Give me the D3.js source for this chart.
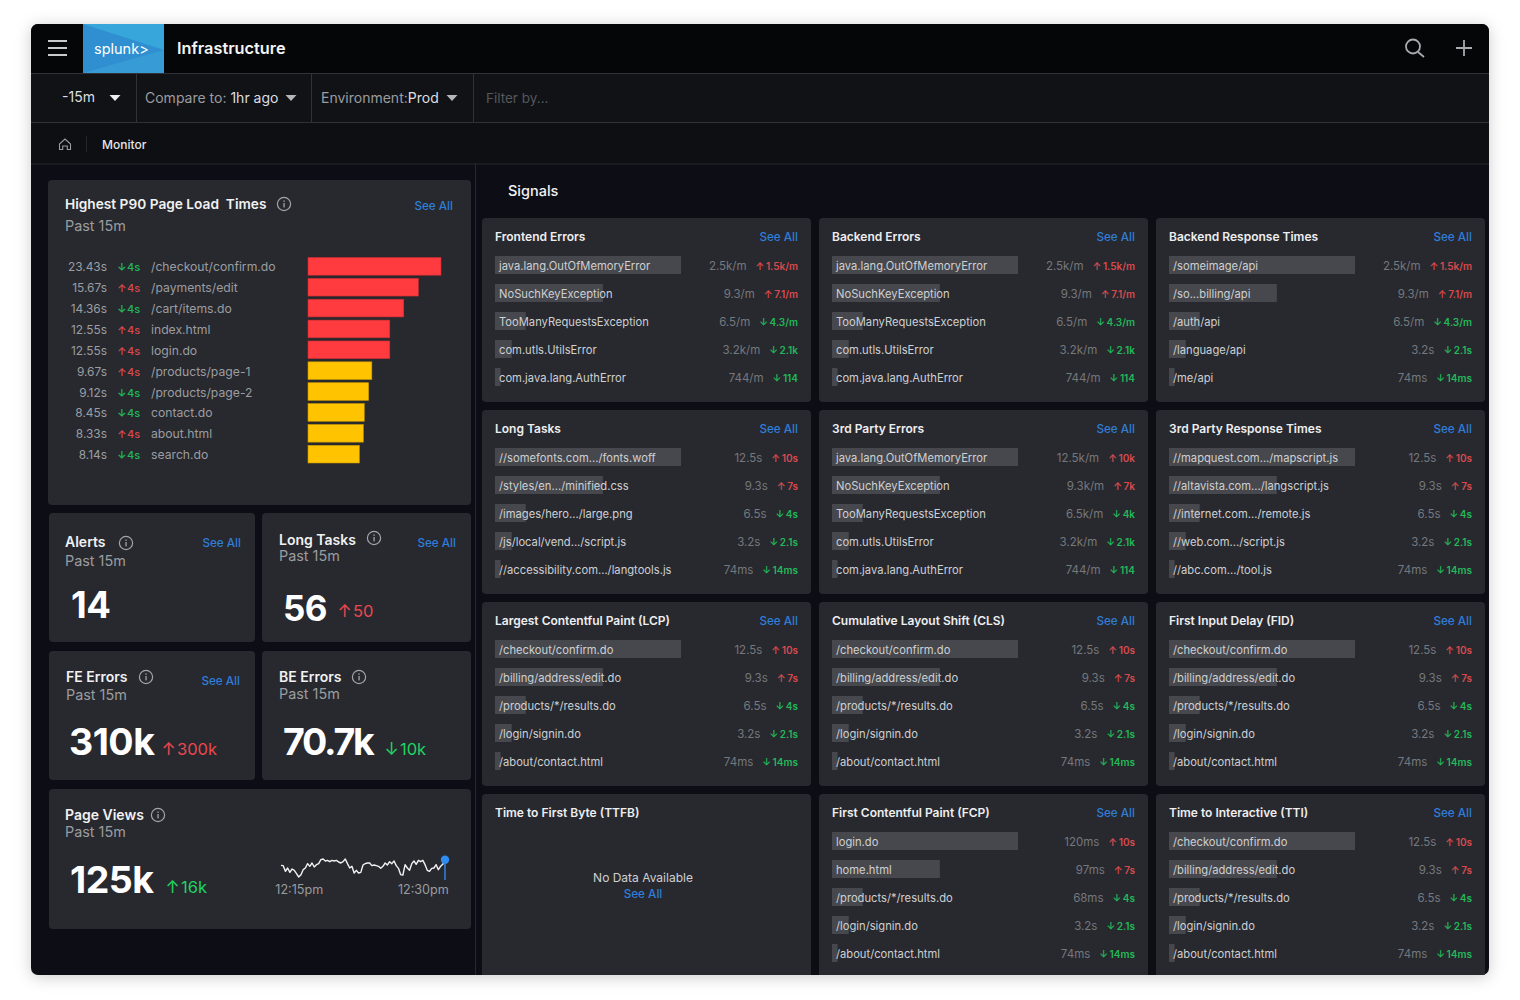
<!DOCTYPE html>
<html>
<head>
<meta charset="utf-8">
<script src="https://cdn.jsdelivr.net/npm/d3@7"></script>
<style>
  html, body { margin: 0; background: #fff; }
  svg { display: block; font-family: Inter, "Noto Sans", sans-serif; }
  .title { font-size: 13.7px; font-weight: 600; fill: #f1f1f2; }
  .cardTitle { font-size: 14px; font-weight: 600; fill: #f1f1f2; }
  .sub { font-size: 14.4px; fill: #9b9c9f; }
  .seeAll { font-size: 11.7px; font-weight: 500; fill: #2f7ed8; text-anchor: end; }
  .big { font-weight: 700; fill: #fff; }
  .signalTitle { font-size: 12px; font-weight: 600; fill: #eeeeef; }
  .rowName { font-size: 11.2px; fill: #cfd0d2; }
  .rowValue { font-size: 11.5px; fill: #76787c; }
  .rowDelta { font-size: 10px; font-weight: 600; }
  .p90 { font-size: 12.2px; fill: #9c9da0; }
  .up { fill: #d8494e; }
  .down { fill: #22b858; }
  .bigUp { fill: #ea484e; }
  .bigDown { fill: #1fd462; }
</style>
</head>
<body>
<svg id="chart" width="1520" height="1000"></svg>
<script>
// left column: page load list
const p90Pages  = ['/checkout/confirm.do', '/payments/edit', '/cart/items.do', 'index.html', 'login.do',
                   '/products/page-1', '/products/page-2', 'contact.do', 'about.html', 'search.do'];
const p90Times  = ['23.43s', '15.67s', '14.36s', '12.55s', '12.55s', '9.67s', '9.12s', '8.45s', '8.33s', '8.14s'];
const p90Dirs   = [-1, 1, -1, 1, 1, 1, -1, -1, 1, -1];
const p90Delta  = '4s';
const p90Bars   = [100, 83, 72, 61.5, 61.5, 48, 45.6, 42.3, 41.6, 38.6];  // bar length as drawn, % of longest
const p90Colors = ['#ff3b3f', '#ff3b3f', '#ff3b3f', '#ff3b3f', '#ff3b3f', '#ffc300', '#ffc300', '#ffc300', '#ffc300', '#ffc300'];

// page views sparkline (relative units)
const pageViews = [53, 52, 35, 45, 32, 42, 38, 28, 18, 25, 40, 45, 58, 50, 60, 48, 55, 58, 70, 72, 66, 68, 64, 68, 66,
                   68, 63, 60, 64, 72, 58, 45, 50, 30, 38, 30, 32, 54, 58, 60, 60, 52, 54, 52, 50, 44, 50, 60, 54, 64,
                   58, 66, 52, 44, 25, 24, 55, 45, 38, 58, 66, 56, 68, 64, 68, 55, 38, 35, 44, 45, 55, 40, 50, 56, 70];
const sparkTickIdx    = [8, 64];
const sparkTickLabels = ['12:15pm', '12:30pm'];

// signal panels, left to right then top to bottom
const signalTitles = ['Frontend Errors', 'Backend Errors', 'Backend Response Times',
                      'Long Tasks', '3rd Party Errors', '3rd Party Response Times',
                      'Largest Contentful Paint (LCP)', 'Cumulative Layout Shift (CLS)', 'First Input Delay (FID)',
                      'Time to First Byte (TTFB)', 'First Contentful Paint (FCP)', 'Time to Interactive (TTI)'];
const errorNames = ['java.lang.OutOfMemoryError', 'NoSuchKeyException', 'TooManyRequestsException', 'com.utls.UtilsError', 'com.java.lang.AuthError'];
const pageNames  = ['/checkout/confirm.do', '/billing/address/edit.do', '/products/*/results.do', '/login/signin.do', '/about/contact.html'];
const apiNames   = ['/someimage/api', '/so...billing/api', '/auth/api', '/language/api', '/me/api'];
const taskNames  = ['//somefonts.com.../fonts.woff', '/styles/en.../minified.css', '/images/hero.../large.png', '/js/local/vend.../script.js', '//accessibility.com.../langtools.js'];
const thirdNames = ['//mapquest.com.../mapscript.js', '//altavista.com.../langscript.js', '//internet.com.../remote.js', '//web.com.../script.js', '//abc.com.../tool.js'];
const fcpNames   = ['login.do', 'home.html', '/products/*/results.do', '/login/signin.do', '/about/contact.html'];
const signalNames = [errorNames, errorNames, apiNames, taskNames, errorNames, thirdNames,
                     pageNames, pageNames, pageNames, null, fcpNames, pageNames];

const errValues  = ['2.5k/m', '9.3/m', '6.5/m', '3.2k/m', '744/m'];
const errDeltas  = ['1.5k/m', '7.1/m', '4.3/m', '2.1k', '114'];
const apiValues  = ['2.5k/m', '9.3/m', '6.5/m', '3.2s', '74ms'];
const apiDeltas  = ['1.5k/m', '7.1/m', '4.3/m', '2.1s', '14ms'];
const timeValues = ['12.5s', '9.3s', '6.5s', '3.2s', '74ms'];
const timeDeltas = ['10s', '7s', '4s', '2.1s', '14ms'];
const thirdErrValues = ['12.5k/m', '9.3k/m', '6.5k/m', '3.2k/m', '744/m'];
const thirdErrDeltas = ['10k', '7k', '4k', '2.1k', '114'];
const fcpValues  = ['120ms', '97ms', '68ms', '3.2s', '74ms'];
const signalValues = [errValues, errValues, apiValues, timeValues, thirdErrValues, timeValues,
                      timeValues, timeValues, timeValues, null, fcpValues, timeValues];
const signalDeltas = [errDeltas, errDeltas, apiDeltas, timeDeltas, thirdErrDeltas, timeDeltas,
                      timeDeltas, timeDeltas, timeDeltas, null, timeDeltas, timeDeltas];
const signalDirs = [1, 1, -1, -1, -1];
const signalBars = [100, 58, 16.5, 9, 3];  // bar length as drawn, % of longest

const UP = '\u2191', DOWN = '\u2193';

const svg = d3.select('#chart');
const defs = svg.append('defs');

defs.append('filter').attr('id', 'shadow').attr('x', '-5%').attr('y', '-5%').attr('width', '110%').attr('height', '110%')
    .append('feDropShadow').attr('dx', 0).attr('dy', 2).attr('stdDeviation', 8).attr('flood-color', '#000').attr('flood-opacity', 0.2);
defs.append('clipPath').attr('id', 'win').append('rect')
    .attr('x', 31).attr('y', 24).attr('width', 1458).attr('height', 951).attr('rx', 7);

svg.append('rect').attr('x', 31).attr('y', 24).attr('width', 1458).attr('height', 951).attr('rx', 7)
   .attr('fill', '#0e0f13').attr('filter', 'url(#shadow)');

const win = svg.append('g').attr('clip-path', 'url(#win)');

function rect(g, x, y, w, h, fill, rx) {
    return g.append('rect').attr('x', x).attr('y', y).attr('width', w).attr('height', h)
            .attr('fill', fill).attr('rx', rx || 0);
}

function text(g, x, y, str, cls) {
    return g.append('text').attr('x', x).attr('y', y).attr('class', cls || null).text(str);
}

function line(g, x1, y1, x2, y2, color, width) {
    return g.append('line').attr('x1', x1).attr('y1', y1).attr('x2', x2).attr('y2', y2)
            .attr('stroke', color).attr('stroke-width', width || 1);
}

function caret(g, x, y, color) {
    g.append('path').attr('d', 'M' + (x - 5.5) + ',' + (y - 3) + 'h11l-5.5,6z').attr('fill', color);
}

function infoIcon(g, x, y) {
    g.append('circle').attr('cx', x).attr('cy', y).attr('r', 6.6)
     .attr('fill', 'none').attr('stroke', '#a3a4a7').attr('stroke-width', 1.2);
    rect(g, x - 0.6, y - 1, 1.3, 4.4, '#a3a4a7');
    rect(g, x - 0.6, y - 3.6, 1.3, 1.4, '#a3a4a7');
}

// ---- header ----
function drawHeader() {
    rect(win, 31, 24, 1458, 49, '#050608');
    rect(win, 31, 73, 1458, 49, '#111216');
    rect(win, 31, 122, 1458, 42, '#0e0f13');
    line(win, 31, 73.5, 1489, 73.5, '#303237');
    line(win, 31, 122.5, 1489, 122.5, '#303237');
    line(win, 31, 164, 1489, 164, '#26282c');

    [41, 48, 55].forEach(y => line(win, 48, y, 67, y, '#c9cacc', 2));

    // logo
    rect(win, 83, 24, 81, 49, '#2f8fd0');
    win.append('path').attr('d', 'M83,24L164,50V24z').attr('fill', '#37a6da');
    win.append('path').attr('d', 'M83,73L164,50V73z').attr('fill', '#3a9fd6').attr('opacity', 0.8);
    text(win, 94, 54, 'splunk>').attr('fill', '#fff').attr('font-size', 14.5).attr('font-weight', 400);

    text(win, 177, 54, 'Infrastructure').attr('fill', '#f4f4f5').attr('font-size', 16.3).attr('font-weight', 600);

    // search and plus
    win.append('circle').attr('cx', 1413).attr('cy', 46.5).attr('r', 7)
       .attr('fill', 'none').attr('stroke', '#a9aaad').attr('stroke-width', 1.8);
    line(win, 1418, 52, 1424, 57, '#a9aaad', 1.8);
    line(win, 1464, 40, 1464, 56, '#a9aaad', 1.8);
    line(win, 1456, 48, 1472, 48, '#a9aaad', 1.8);

    // filter bar
    [136, 311, 473].forEach(x => line(win, x + 0.5, 73, x + 0.5, 122, '#303237'));
    text(win, 62, 102, '-15m').attr('fill', '#dedfe0').attr('font-size', 14);
    caret(win, 115, 98, '#eeeeef');
    const cmp = win.append('text').attr('x', 145).attr('y', 103).attr('font-size', 14);
    cmp.append('tspan').attr('fill', '#9b9c9f').text('Compare to: ');
    cmp.append('tspan').attr('fill', '#dedfe0').text('1hr ago');
    caret(win, 291, 98, '#b5b6b8');
    const env = win.append('text').attr('x', 321).attr('y', 103).attr('font-size', 14);
    env.append('tspan').attr('fill', '#9b9c9f').text('Environment:');
    env.append('tspan').attr('fill', '#dedfe0').text('Prod');
    caret(win, 452, 98, '#b5b6b8');
    text(win, 486, 103, 'Filter by...').attr('fill', '#55575b').attr('font-size', 13.5);

    // breadcrumb
    win.append('path').attr('d', 'M59.5,149.5v-5.5l5.5,-5l5.5,5v5.5h-3.2v-3.5h-4.6v3.5z')
       .attr('fill', 'none').attr('stroke', '#9b9c9f').attr('stroke-width', 1.1);
    line(win, 86.5, 136, 86.5, 152, '#26282c');
    text(win, 102, 149, 'Monitor').attr('fill', '#e6e6e7').attr('font-size', 12).attr('font-weight', 500);

    line(win, 475.5, 164, 475.5, 975, '#26282c');
}

// ---- left column ----
function drawLoadTimes() {
    rect(win, 48, 180, 423, 325, '#27292f', 4);
    text(win, 65, 209, 'Highest P90 Page Load  Times', 'title').style('white-space', 'pre');
    infoIcon(win, 284, 204);
    text(win, 453, 210, 'See All', 'seeAll');
    text(win, 65, 231, 'Past 15m', 'sub');

    const y = d3.scaleBand().domain(p90Pages).range([258, 462.5]).paddingInner(0.2);
    const x = d3.scaleLinear().domain([0, 100]).range([308, 441]);
    const rows = win.append('g').selectAll('g').data(p90Pages).join('g')
        .attr('transform', d => 'translate(0,' + (y(d) + y.bandwidth() / 2) + ')');

    rows.append('text').attr('class', 'p90').attr('x', 107).attr('y', 5).attr('text-anchor', 'end')
        .style('font-size', '11.9px').text((d, i) => p90Times[i]);
    rows.append('text').attr('x', 122).attr('y', 5).attr('font-size', 10.5).attr('font-weight', 600)
        .attr('text-anchor', 'middle').attr('class', (d, i) => p90Dirs[i] > 0 ? 'up' : 'down')
        .text((d, i) => p90Dirs[i] > 0 ? UP : DOWN);
    rows.append('text').attr('x', 127).attr('y', 5).attr('font-size', 11).attr('font-weight', 500)
        .attr('class', (d, i) => p90Dirs[i] > 0 ? 'up' : 'down').text(p90Delta);
    rows.append('text').attr('class', 'p90').attr('x', 151).attr('y', 5).text(d => d);
    rows.append('rect').attr('x', x(0)).attr('y', -y.bandwidth() / 2 - 0.5)
        .attr('width', (d, i) => x(p90Bars[i]) - x(0)).attr('height', y.bandwidth() + 1)
        .attr('fill', (d, i) => p90Colors[i])
        .attr('stroke', (d, i) => d3.color(p90Colors[i]).darker(0.7)).attr('stroke-width', 0.6);
}

function statCard(c) {
    rect(win, c.x, c.y, c.w, c.h, '#27292f', 4);
    text(win, c.tx, c.ty, c.title, 'cardTitle');
    infoIcon(win, c.ix, c.iy);
    text(win, c.tx, c.py, 'Past 15m', 'sub');
    if (c.seeX) text(win, c.seeX, c.seeY, 'See All', 'seeAll');
    text(win, c.bx, c.by, c.big, 'big').attr('font-size', c.bs).style('letter-spacing', (c.ls || -0.5) + 'px');
    if (c.delta) {
        text(win, c.dx + 5.5, c.by - c.dy, c.arrow, c.cls).attr('font-size', 17).attr('text-anchor', 'middle');
        text(win, c.dx + 14, c.by - c.dy, c.delta, c.cls).attr('font-size', 16.5);
    }
}

function drawStats() {
    statCard({x: 49, y: 513, w: 206, h: 129, tx: 65, ty: 547, py: 566, ix: 126, iy: 543, seeX: 241, seeY: 547,
              title: 'Alerts', big: '14', bx: 71, by: 618, bs: 36.5});
    statCard({x: 262, y: 513, w: 209, h: 129, tx: 279, ty: 545, py: 561, ix: 374, iy: 538, seeX: 456, seeY: 547,
              title: 'Long Tasks', big: '56', bx: 283, by: 621, bs: 35, delta: '50', arrow: UP, cls: 'bigUp', dx: 339, dy: 4});
    statCard({x: 49, y: 651, w: 206, h: 129, tx: 66, ty: 682, py: 700, ix: 146, iy: 677, seeX: 240, seeY: 685,
              title: 'FE Errors', big: '310k', bx: 69, by: 755, bs: 37.5, delta: '300k', arrow: UP, cls: 'bigUp', dx: 163, dy: 0});
    statCard({x: 262, y: 651, w: 209, h: 129, tx: 279, ty: 682, py: 699, ix: 359, iy: 677,
              title: 'BE Errors', big: '70.7k', bx: 283, by: 755, bs: 37.5, ls: -2.2, delta: '10k', arrow: DOWN, cls: 'bigDown', dx: 386, dy: 0});
    statCard({x: 49, y: 789, w: 422, h: 140, tx: 65, ty: 820, py: 837, ix: 158, iy: 815,
              title: 'Page Views', big: '125k', bx: 70, by: 893, bs: 37.5, delta: '16k', arrow: UP, cls: 'bigDown', dx: 167, dy: 0});
}

function drawSparkline() {
    const x = d3.scaleLinear().domain([0, pageViews.length - 1]).range([281, 445]);
    const y = d3.scaleLinear().domain(d3.extent(pageViews)).range([877, 859]);
    const path = d3.line().x((d, i) => x(i)).y(d => y(d));

    win.append('path').datum(pageViews).attr('d', path).attr('fill', 'none')
       .attr('stroke', '#f2f2f3').attr('stroke-width', 1.4).attr('stroke-linejoin', 'round');

    const lastX = x(pageViews.length - 1), lastY = y(pageViews[pageViews.length - 1]);
    line(win, lastX, lastY, lastX, 880, '#2f8cf0', 1.4);
    win.append('circle').attr('cx', lastX).attr('cy', lastY).attr('r', 4.2).attr('fill', '#2f8cf0');

    const axis = d3.axisBottom(x).tickValues(sparkTickIdx).tickSize(0)
        .tickFormat((d, i) => sparkTickLabels[i]);
    const gAxis = win.append('g').attr('transform', 'translate(0,881)').call(axis);
    gAxis.select('.domain').remove();
    gAxis.selectAll('text').attr('fill', '#9b9c9f').attr('font-size', 12.6)
         .attr('font-family', 'Inter, sans-serif').attr('dy', '0.8em');
}

// ---- signals ----
function drawSignal(i) {
    const panelW = 329, panelH = 184;
    const px = 482 + (i % 3) * 337;
    const py = 218 + Math.floor(i / 3) * 192;
    const g = win.append('g').attr('transform', 'translate(' + px + ',' + py + ')');

    rect(g, 0, 0, panelW, panelH, '#27292f', 4);
    text(g, 13, 23, signalTitles[i], 'signalTitle');

    if (!signalNames[i]) {
        text(g, 161, 88, 'No Data Available').attr('text-anchor', 'middle')
            .attr('font-size', 12).attr('fill', '#cfd0d2');
        text(g, 161, 104, 'See All', 'seeAll').style('text-anchor', 'middle');
        return;
    }
    text(g, 316, 23, 'See All', 'seeAll');

    const y = d3.scaleBand().domain(d3.range(5)).range([38, 168]).paddingInner(10 / 28).paddingOuter(0);
    const x = d3.scaleLinear().domain([0, 100]).range([0, 186]);
    const rows = g.selectAll('g.row').data(signalNames[i]).join('g').attr('class', 'row')
        .attr('transform', (d, j) => 'translate(13,' + (y(j) + y.bandwidth() / 2) + ')');

    rows.append('rect').attr('y', -9).attr('height', 18)
        .attr('width', (d, j) => x(signalBars[j])).attr('fill', '#46484d');
    rows.append('text').attr('class', 'rowName').attr('x', 4).attr('y', 4.5).text(d => d);

    const info = rows.append('text').attr('x', 303).attr('y', 4.5).attr('text-anchor', 'end');
    info.append('tspan').attr('class', 'rowValue').text((d, j) => signalValues[i][j]);
    info.append('tspan').attr('dx', 9).attr('class', (d, j) => 'rowDelta ' + (signalDirs[j] > 0 ? 'up' : 'down'))
        .text((d, j) => signalDirs[j] > 0 ? UP : DOWN);
    info.append('tspan').attr('dx', 1.5).attr('class', (d, j) => 'rowDelta ' + (signalDirs[j] > 0 ? 'up' : 'down'))
        .text((d, j) => signalDeltas[i][j]);
}

drawHeader();
drawLoadTimes();
drawStats();
drawSparkline();
text(win, 508, 196, 'Signals').attr('fill', '#f1f1f2').attr('font-size', 14.5).attr('font-weight', 500);
signalTitles.forEach((t, i) => drawSignal(i));
</script>
</body>
</html>
